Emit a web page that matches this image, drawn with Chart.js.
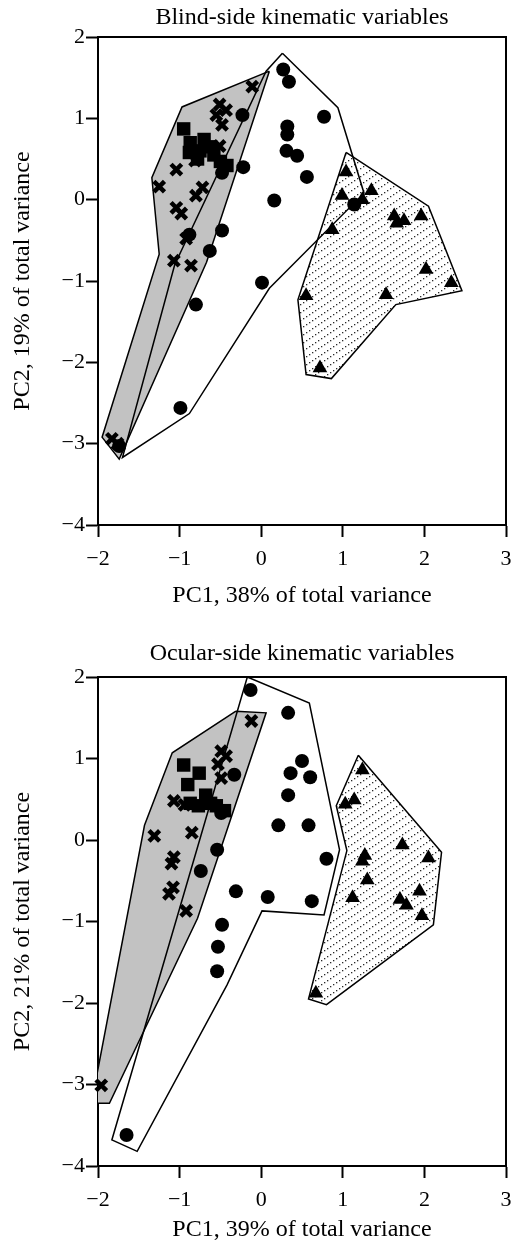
<!DOCTYPE html>
<html>
<head>
<meta charset="utf-8">
<title>PCA kinematic variables</title>
<script src="https://cdn.jsdelivr.net/npm/chart.js@4.4.1/dist/chart.umd.min.js"></script>
<style>
  html, body { margin: 0; padding: 0; background: #fff; }
  #wrap { position: relative; width: 511px; height: 1246px; overflow: hidden; }
  #blindChart { position: absolute; left: 0; top: 0; }
  #ocularChart { position: absolute; left: 0; top: 630px; }
</style>
</head>
<body>
<div id="wrap">
  <canvas id="blindChart" width="511" height="620"></canvas>
  <canvas id="ocularChart" width="511" height="616"></canvas>
</div>
<script>
// pca.js - two PCA score plots (blind side / ocular side)

// ==================== DATA ====================

const xTickValues = [-2, -1, 0, 1, 2, 3];
const yTickValues = [-4, -3, -2, -1, 0, 1, 2];

// ---- Blind side ----
const blindCircles = [
  [0.27, 1.60], [0.34, 1.45], [-0.23, 1.04], [0.32, 0.90], [0.32, 0.80],
  [0.31, 0.60], [0.44, 0.54], [0.77, 1.02], [0.56, 0.28], [-0.22, 0.40],
  [-0.48, 0.33], [0.16, -0.01], [-0.48, -0.38], [-0.88, -0.43], [-0.63, -0.63],
  [0.01, -1.02], [-0.80, -1.29], [-0.99, -2.56], [-1.74, -3.03], [1.14, -0.06],
];
const blindCrosses = [
  [-0.11, 1.39], [-0.51, 1.17], [-0.43, 1.10], [-0.55, 1.04], [-0.48, 0.92],
  [-0.51, 0.66], [-1.04, 0.37], [-0.81, 0.48], [-1.25, 0.16], [-0.72, 0.15],
  [-0.80, 0.05], [-1.04, -0.10], [-0.98, -0.17], [-0.92, -0.48], [-1.07, -0.75],
  [-0.86, -0.81], [-1.83, -2.94], [-1.76, -3.00],
];
const blindSquares = [
  [-0.95, 0.87], [-0.87, 0.70], [-0.88, 0.58], [-0.75, 0.60], [-0.70, 0.74],
  [-0.62, 0.65], [-0.58, 0.55], [-0.50, 0.47], [-0.42, 0.42], [-0.78, 0.50],
];
const blindTriangles = [
  [1.04, 0.34], [0.99, 0.05], [1.35, 0.11], [1.24, 0.00], [1.63, -0.20],
  [1.75, -0.26], [1.66, -0.29], [1.96, -0.20], [0.87, -0.37], [2.02, -0.86],
  [2.33, -1.02], [1.53, -1.17], [0.55, -1.18], [0.72, -2.07],
];
// outlines drawn round each group
const blindHullCircles = [
  [0.26, 1.80], [0.94, 1.13], [1.26, 0.08], [0.10, -1.09], [-0.88, -2.63],
  [-1.70, -3.17], [-1.06, -0.80], [0.06, 1.58], [0.26, 1.80],
];
const blindHullCrosses = [
  [0.10, 1.58], [-0.97, 1.14], [-1.34, 0.27], [-1.25, -0.67], [-1.95, -2.92],
  [-1.74, -3.19], [-0.67, -0.77], [0.10, 1.58],
];
const blindHullTriangles = [
  [1.04, 0.58], [2.05, -0.08], [2.46, -1.12], [1.65, -1.29], [0.86, -2.20],
  [0.55, -2.15], [0.45, -1.23], [1.04, 0.58],
];

// ---- Ocular side ----
const ocularCircles = [
  [-0.13, 1.84], [0.33, 1.56], [-0.33, 0.80], [0.36, 0.82], [0.50, 0.97],
  [0.60, 0.77], [0.33, 0.55], [-0.49, 0.33], [0.21, 0.18], [0.58, 0.18],
  [-0.54, -0.12], [-0.74, -0.38], [0.80, -0.23], [-0.31, -0.63], [0.08, -0.70],
  [0.62, -0.75], [-0.48, -1.04], [-0.53, -1.31], [-0.54, -1.61], [-1.65, -3.62],
];
const ocularCrosses = [
  [-0.12, 1.46], [-0.49, 1.09], [-0.43, 1.03], [-0.53, 0.93], [-0.49, 0.76],
  [-1.07, 0.48], [-0.94, 0.43], [-1.31, 0.05], [-0.85, 0.09], [-1.07, -0.21],
  [-1.10, -0.29], [-1.08, -0.58], [-1.13, -0.66], [-0.92, -0.87], [-1.96, -3.01],
];
const ocularSquares = [
  [-0.95, 0.92], [-0.76, 0.82], [-0.90, 0.68], [-0.68, 0.55], [-0.87, 0.45],
  [-0.77, 0.42], [-0.62, 0.45], [-0.55, 0.42], [-0.45, 0.36],
];
const ocularTriangles = [
  [1.24, 0.86], [1.03, 0.44], [1.14, 0.49], [1.73, -0.06], [2.05, -0.22],
  [1.27, -0.19], [1.24, -0.26], [1.30, -0.49], [1.94, -0.63], [1.12, -0.71],
  [1.70, -0.73], [1.78, -0.80], [1.97, -0.93], [0.67, -1.88],
];
const ocularHullCircles = [
  [-0.17, 2.00], [0.59, 1.68], [0.96, -0.12], [0.77, -0.92], [0.01, -0.87],
  [-0.42, -1.78], [-1.52, -3.82], [-1.83, -3.68], [-0.17, 2.00],
];
const ocularHullCrosses = [
  [-0.31, 1.58], [0.06, 1.56], [-0.78, -0.96], [-1.86, -3.23], [-2.08, -3.23],
  [-1.43, 0.18], [-1.09, 1.07], [-0.31, 1.58],
];
const ocularHullTriangles = [
  [1.19, 1.04], [2.21, -0.15], [2.11, -1.04], [0.80, -2.02], [0.58, -1.95],
  [1.05, -0.13], [0.92, 0.42], [1.19, 1.04],
];

// ==================== HELPERS ====================

Chart.defaults.font.family = "'Liberation Serif', 'Times New Roman', serif";
Chart.defaults.color = "#000";

const TICK_FONT = { size: 22 };
const TITLE_FONT = { size: 24 };

function toXY(list) {
  return list.map(([x, y]) => ({ x, y }));
}

function minus(v) {
  return v < 0 ? "\u2212" + Math.abs(v) : String(v);
}

// dotted diagonal hatching used for the triangle group
function dotPattern() {
  const c = document.createElement("canvas");
  c.width = 12;
  c.height = 8;
  const g = c.getContext("2d");
  g.fillStyle = "#fff";
  g.fillRect(0, 0, 12, 8);
  g.fillStyle = "#2a2a2a";
  [[0, 0], [3, 6], [6, 4], [9, 2]].forEach(([x, y]) => g.fillRect(x, y, 1.3, 1.3));
  return g.createPattern(c, "repeat");
}

function markerSet(points, style, radius, stroke) {
  return {
    data: toXY(points),
    pointStyle: style,
    pointRadius: radius,
    pointHoverRadius: radius,
    pointBackgroundColor: "#000",
    pointBorderColor: "#000",
    pointBorderWidth: stroke || 0,
    showLine: false,
    clip: false,
  };
}

function hullSet(points, fillColor) {
  return {
    data: toXY(points),
    showLine: true,
    pointRadius: 0,
    pointHoverRadius: 0,
    borderColor: "#000",
    borderWidth: 1.5,
    borderJoinStyle: "miter",
    tension: 0,
    backgroundColor: fillColor || "rgba(0,0,0,0)",
    fill: fillColor ? "shape" : false,
  };
}

// keep the plot frame where it is in the figure (no room for edge labels)
function noEdgePadding(s) {
  s.paddingLeft = 0;
  s.paddingRight = 0;
  s.paddingTop = 0;
  s.paddingBottom = 0;
}

// ==================== CHART ====================

function createPcaChart(canvasId, g) {
  const ctx = document.getElementById(canvasId).getContext("2d");
  const H = g.height;

  new Chart(ctx, {
    type: "scatter",
    data: {
      datasets: [
        markerSet(g.crosses, "crossRot", 7.5, 4.5),
        markerSet(g.squares, "rect", 9.5),
        markerSet(g.circles, "circle", 7),
        markerSet(g.triangles, "triangle", 8.5),
        hullSet(g.hullCircles, null),
        hullSet(g.hullCrosses, "#c2c2c2"),
        hullSet(g.hullTriangles, g.pattern),
      ],
    },
    options: {
      responsive: false,
      animation: false,
      events: [],
      layout: { padding: 0, autoPadding: false },
      plugins: {
        legend: { display: false },
        tooltip: { enabled: false },
        filler: { drawTime: "beforeDatasetsDraw" },
      },
      scales: {
        x: {
          type: "linear",
          position: "bottom",
          min: -2,
          max: 3,
          afterBuildTicks: (s) => (s.ticks = xTickValues.map((v) => ({ value: v }))),
          afterFit: (s) => {
            s.height = H - g.areaBottom;
            noEdgePadding(s);
          },
          ticks: { font: TICK_FONT, padding: 9, callback: minus, maxRotation: 0 },
          grid: { drawOnChartArea: false, drawTicks: true, tickLength: 12, tickWidth: 2, tickColor: "#000" },
          border: { display: true, width: 2, color: "#000" },
          title: { display: true, text: g.xTitle, font: TITLE_FONT, padding: { top: 0, bottom: g.xTitlePad } },
        },
        x2: {
          type: "linear",
          axis: "x",
          position: "top",
          min: -2,
          max: 3,
          afterFit: (s) => {
            s.height = g.areaTop;
            noEdgePadding(s);
          },
          ticks: { display: false },
          grid: { display: false },
          border: { display: true, width: 2, color: "#000" },
          title: { display: true, text: g.title, font: TITLE_FONT, padding: { top: g.titlePad, bottom: 0 } },
        },
        y: {
          type: "linear",
          position: "left",
          min: -4,
          max: 2,
          afterBuildTicks: (s) => (s.ticks = yTickValues.map((v) => ({ value: v }))),
          afterFit: (s) => {
            s.width = 98;
            noEdgePadding(s);
          },
          ticks: { font: TICK_FONT, padding: 1, callback: minus },
          grid: { drawOnChartArea: false, drawTicks: true, tickLength: 12, tickWidth: 2, tickColor: "#000" },
          border: { display: true, width: 2, color: "#000" },
          title: { display: true, text: g.yTitle, font: TITLE_FONT, padding: { top: 8, bottom: 0 } },
        },
        y2: {
          type: "linear",
          axis: "y",
          position: "right",
          min: -4,
          max: 2,
          afterFit: (s) => {
            s.width = 5;
            noEdgePadding(s);
          },
          ticks: { display: false },
          grid: { display: false },
          border: { display: true, width: 2, color: "#000" },
        },
      },
    },
  });
}

// ==================== INITIALIZE ====================

createPcaChart("blindChart", {
  height: 620,
  areaTop: 37,
  areaBottom: 525,
  title: "Blind-side kinematic variables",
  titlePad: 3,
  xTitle: "PC1, 38% of total variance",
  xTitlePad: 10,
  yTitle: "PC2, 19% of total variance",
  circles: blindCircles,
  crosses: blindCrosses,
  squares: blindSquares,
  triangles: blindTriangles,
  hullCircles: blindHullCircles,
  hullCrosses: blindHullCrosses,
  hullTriangles: blindHullTriangles,
  pattern: dotPattern(),
});

createPcaChart("ocularChart", {
  height: 616,
  areaTop: 47,
  areaBottom: 536,
  title: "Ocular-side kinematic variables",
  titlePad: 9,
  xTitle: "PC1, 39% of total variance",
  xTitlePad: 2,
  yTitle: "PC2, 21% of total variance",
  circles: ocularCircles,
  crosses: ocularCrosses,
  squares: ocularSquares,
  triangles: ocularTriangles,
  hullCircles: ocularHullCircles,
  hullCrosses: ocularHullCrosses,
  hullTriangles: ocularHullTriangles,
  pattern: dotPattern(),
});
</script>
</body>
</html>
